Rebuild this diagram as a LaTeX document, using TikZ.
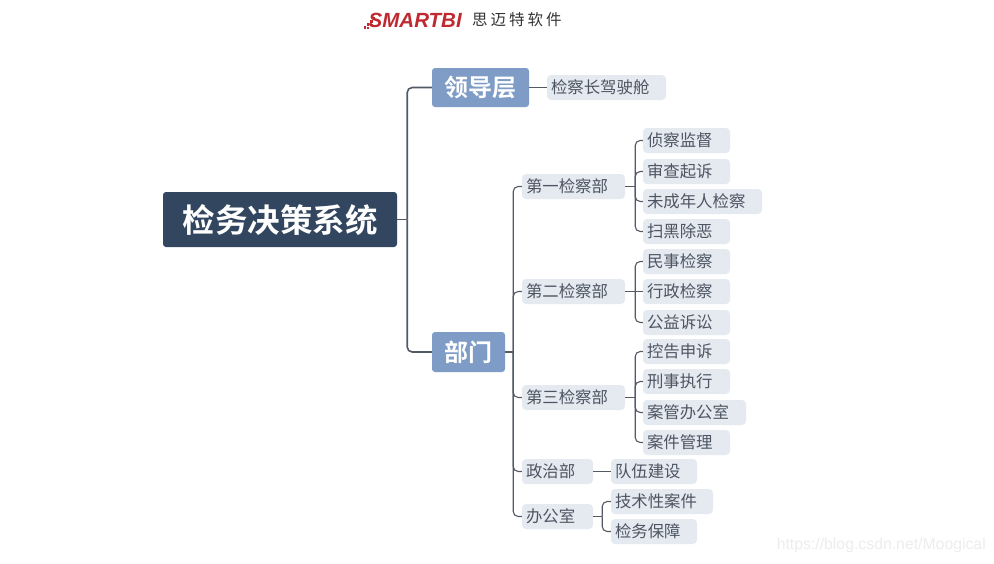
\documentclass[tikz,border=0pt]{standalone}
\usepackage{fontspec}
\setmainfont{Liberation Sans}
\newfontfamily\cjk{Noto Sans CJK SC}
\newfontfamily\cjkb{Noto Sans CJK SC Bold}
\tikzset{
  x=1pt,y=-1pt,
  rootbox/.style={fill=rootc,text=white,rounded corners=3pt,inner sep=0pt,font=\cjkb\fontsize{32.5}{34}\selectfont,text height=28.5pt,text depth=3.5pt},
  headbox/.style={fill=headc,text=white,rounded corners=3pt,inner sep=0pt,font=\cjkb\fontsize{24}{26}\selectfont,text height=21pt,text depth=2.5pt},
  leafbox/.style={fill=leafc,text=textc,rounded corners=4pt,inner ysep=0pt,inner xsep=4pt,align=left,font=\cjk\fontsize{16.4}{17}\selectfont,text height=14.2pt,text depth=2pt},
  wire/.style={draw=wirec,line width=1.1pt},
  thick wire/.style={draw=wirec,line width=1.6pt},
  round wire/.style={wire,rounded corners=5pt},
}
\definecolor{rootc}{HTML}{32465F}
\definecolor{headc}{HTML}{7F9CC6}
\definecolor{leafc}{HTML}{E5EAF1}
\definecolor{textc}{HTML}{4C5561}
\definecolor{wirec}{HTML}{535A66}
\definecolor{logoc}{HTML}{BE2A30}
% \bx{style}{name}{x1}{y1}{x2}{y2}{text}
\newcommand{\bx}[7]{%
  \pgfmathsetmacro{\cxx}{(#3+#5)/2}\pgfmathsetmacro{\cyy}{(#4+#6)/2}%
  \pgfmathsetmacro{\wdd}{#5-#3}\pgfmathsetmacro{\htt}{#6-#4}%
  \node[#1,minimum width=\wdd pt,minimum height=\htt pt] (#2) at (\cxx,\cyy) {#7};}
\newcommand{\lf}[6]{%
  \pgfmathsetmacro{\cxx}{(#2+#4)/2}\pgfmathsetmacro{\cyy}{(#3+#5)/2}%
  \pgfmathsetmacro{\wdd}{#4-#2-8}\pgfmathsetmacro{\htt}{#5-#3}%
  \node[leafbox,text width=\wdd pt,minimum height=\htt pt] (#1) at (\cxx,\cyy) {#6};}
\begin{document}
\begin{tikzpicture}
\useasboundingbox (0,0) rectangle (994,563);
\fill[white] (0,0) rectangle (994,563);
% logo
\foreach \p in {(364.8,27.5),(368,24.5),(368,28),(371.2,21.5),(371.2,25),(374,18.5)}
  \fill[logoc] \p ++(-1.3,-1.3) rectangle ++(2.6,2.6);
\node[anchor=west,inner sep=0pt,text=logoc,font=\bfseries\itshape\fontsize{20.5}{21}\selectfont] (logo) at (368.5,20) {SMARTBI};
\node[anchor=west,inner sep=0pt,text=black!80,font=\cjk\fontsize{15.5}{17}\selectfont] (logotext) at (472,20) {思\hspace{3pt}迈\hspace{3pt}特\hspace{3pt}软\hspace{3pt}件};
\node[anchor=east,inner sep=0pt,text=black!7,font=\fontsize{15.8}{18}\selectfont] (mark) at (986,545) {https://blog.csdn.net/Moogical};
% nodes
\bx{rootbox}{root}{163}{192}{397}{247}{检务决策系统}
\bx{headbox}{lead}{432}{68}{529}{107}{领导层}
\bx{headbox}{dept}{432}{332}{505}{372}{部门}
\lf{cab}{547}{75}{666}{100}{检察长驾驶舱}
\lf{d1}{522}{174}{625}{199}{第一检察部}
\lf{d2}{522}{279}{625}{304}{第二检察部}
\lf{d3}{522}{385}{625}{410}{第三检察部}
\lf{d4}{522}{459}{593}{484}{政治部}
\lf{d5}{522}{504}{593}{529}{办公室}
\lf{a1}{643}{128}{730}{153}{侦察监督}
\lf{a2}{643}{159}{730}{184}{审查起诉}
\lf{a3}{643}{189}{762}{214}{未成年人检察}
\lf{a4}{643}{219}{730}{244}{扫黑除恶}
\lf{b1}{643}{249}{730}{274}{民事检察}
\lf{b2}{643}{279}{730}{304}{行政检察}
\lf{b3}{643}{310}{730}{335}{公益诉讼}
\lf{c1}{643}{339}{730}{364}{控告申诉}
\lf{c2}{643}{369}{730}{394}{刑事执行}
\lf{c3}{643}{400}{746}{425}{案管办公室}
\lf{c4}{643}{430}{730}{455}{案件管理}
\lf{e1}{611}{459}{697}{484}{队伍建设}
\lf{f1}{611}{489}{713}{514}{技术性案件}
\lf{f2}{611}{519}{697}{544}{检务保障}
% bus coordinates
\coordinate (rootbus) at ([xshift=10pt]root.east);
\coordinate (deptbus) at ([xshift=8pt]dept.east);
\coordinate (d1bus) at ([xshift=10pt]d1.east);
\coordinate (d2bus) at ([xshift=10pt]d2.east);
\coordinate (d3bus) at ([xshift=10pt]d3.east);
\coordinate (d5bus) at ([xshift=9pt]d5.east);
% connectors
\draw[thick wire] (root.east) -- (rootbus);
\draw[thick wire,rounded corners=5pt] (rootbus) |- (lead.west);
\draw[thick wire,rounded corners=5pt] (rootbus) |- (dept.west);
\draw[wire] (lead.east) -- (cab.west);
\draw[wire] (dept.east) -- (deptbus);
\foreach \t in {d1,d2,d3,d4,d5} \draw[round wire] (deptbus) |- (\t.west);
\draw[wire] (d1.east) -- (d1bus);
\foreach \t in {a1,a2,a3,a4} \draw[round wire] (d1bus) |- (\t.west);
\draw[wire] (d2.east) -- (b2.west);
\foreach \t in {b1,b3} \draw[round wire] (d2bus) |- (\t.west);
\draw[wire] (d3.east) -- (d3bus);
\foreach \t in {c1,c2,c3,c4} \draw[round wire] (d3bus) |- (\t.west);
\draw[wire] (d4.east) -- (e1.west);
\draw[wire] (d5.east) -- (d5bus);
\foreach \t in {f1,f2} \draw[round wire] (d5bus) |- (\t.west);
\end{tikzpicture}
\end{document}
